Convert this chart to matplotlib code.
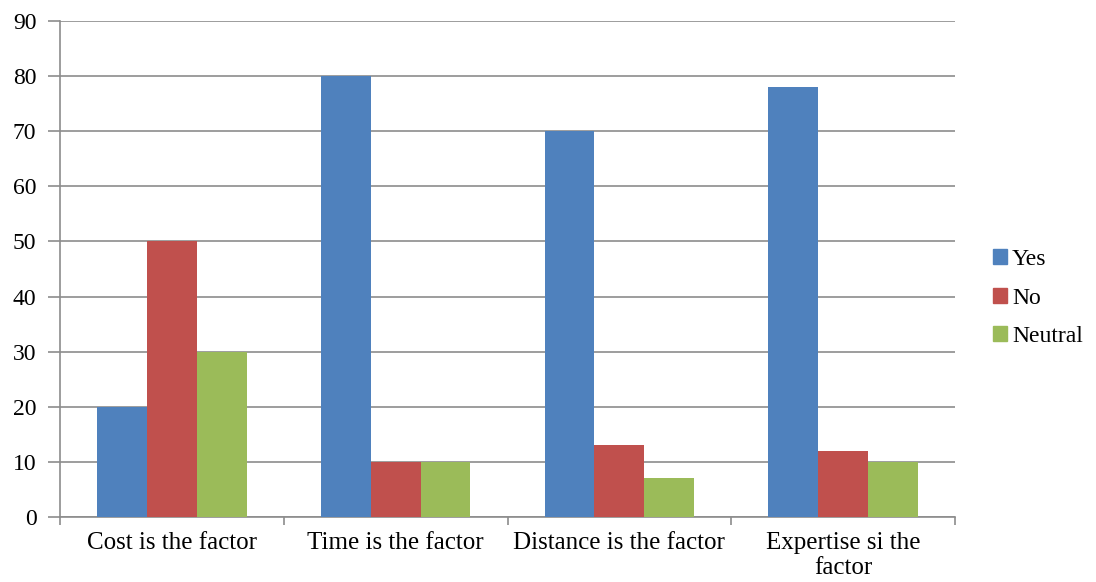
import numpy as np
from matplotlib import pyplot as plt
from matplotlib.patches import Patch

plt.rcParams['font.family'] = ['Liberation Serif', 'DejaVu Serif']

categories = ['Cost is the factor', 'Time is the factor', 'Distance is the factor',
              'Expertise si the\nfactor']
series = ['Yes', 'No', 'Neutral']
yes = [20, 80, 70, 78]
no = [50, 10, 13, 12]
neutral = [30, 10, 7, 10]
colors = ['#4F81BD', '#C0504D', '#9BBB59']

fig = plt.figure(figsize=(10.96, 5.82), dpi=100)
ax = fig.add_axes([60 / 1096, 65 / 582, 895 / 1096, 496 / 582])

x = np.arange(len(categories))
w = 0.223
for i, (vals, c) in enumerate(zip([yes, no, neutral], colors)):
    ax.bar(x + (i - 1) * w, vals, w, color=c, zorder=3)

ax.set_xlim(-0.5, len(categories) - 0.5)
ax.set_ylim(0, 90)
ax.set_yticks(range(0, 91, 10))
ax.yaxis.grid(True, color='#8c8c8c', linewidth=1.2, zorder=0)
ax.tick_params(axis='y', length=9, width=1.2, color='#8c8c8c', labelsize=17, pad=8)

# category labels centred, ticks at group boundaries
ax.set_xticks(x)
ax.set_xticklabels(categories, fontsize=18, linespacing=1.15)
ax.tick_params(axis='x', which='major', length=0, pad=11)
ax.set_xticks(np.arange(-0.5, len(categories)), minor=True)
ax.tick_params(axis='x', which='minor', length=6, width=1.2, color='#8c8c8c')

for s in ['top', 'right']:
    ax.spines[s].set_visible(False)
for s in ['left', 'bottom']:
    ax.spines[s].set_color('#8c8c8c')
    ax.spines[s].set_linewidth(1.2)

handles = [Patch(color=c, label=s) for c, s in zip(colors, series)]
fig.legend(handles=handles, loc='center left', bbox_to_anchor=(972 / 1096, 284 / 582),
           frameon=False, fontsize=17, handlelength=0.6, handleheight=0.6,
           handletextpad=0.2, labelspacing=0.75)

fig.savefig('out.png', dpi=100)
